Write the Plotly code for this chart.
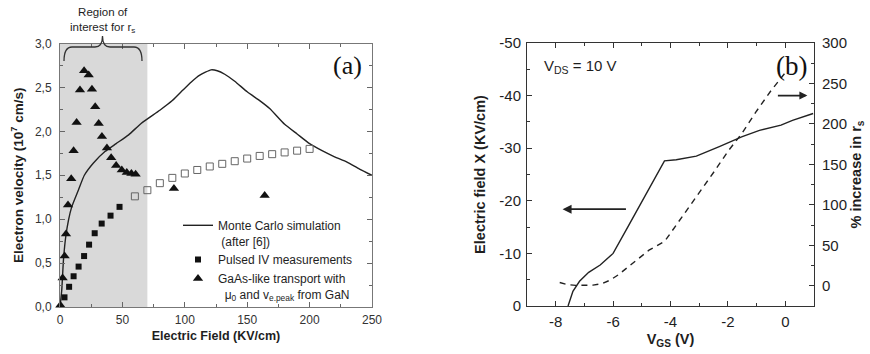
import plotly.graph_objects as go

# ---------------- panel (a) data ----------------
mc_x = [0, 1.4, 2.8, 4.6, 6.8, 9.4, 14.7, 19.5, 26.8, 36, 45, 55, 65, 80, 90, 98.5, 105, 112, 121,
        126, 132, 140, 150, 160, 168, 180, 190, 200, 210, 220, 230, 240, 250]
mc_y = [0, 0.19, 0.54, 0.80, 0.99, 1.14, 1.33, 1.50, 1.64, 1.77, 1.86, 1.96, 2.09, 2.24, 2.35, 2.47,
        2.56, 2.64, 2.70, 2.69, 2.65, 2.57, 2.45, 2.35, 2.26, 2.08, 1.97, 1.86, 1.78, 1.71, 1.65, 1.57, 1.50]

pulsed_x = [3.6, 7.3, 10.9, 14.9, 19.3, 23.3, 27.8, 33.4, 40.5, 47.7]
pulsed_y = [0.11, 0.23, 0.35, 0.46, 0.58, 0.71, 0.84, 0.95, 1.04, 1.14]

open_x = [60, 70, 80, 90, 100, 110, 120, 130, 140, 150, 160, 170, 180, 190, 200]
open_y = [1.26, 1.33, 1.41, 1.47, 1.52, 1.56, 1.60, 1.63, 1.66, 1.69, 1.72, 1.74, 1.76, 1.78, 1.80]

gaas_x = [0.3, 2.1, 3.7, 4.8, 6.4, 9.0, 10.9, 13.3, 16.0, 19.3, 23.0, 25.6, 28.2, 31.0, 33.6,
          37.6, 41.0, 45.0, 49.5, 53.5, 57.2, 60.6, 91.3, 164]
gaas_y = [0.02, 0.33, 0.58, 0.83, 1.16, 1.46, 1.78, 2.10, 2.47, 2.69, 2.64, 2.48, 2.28, 2.09, 1.94,
          1.81, 1.70, 1.61, 1.56, 1.53, 1.52, 1.51, 1.35, 1.27]

a_xticks = [0, 50, 100, 150, 200, 250]
a_yticks = [0, 0.5, 1.0, 1.5, 2.0, 2.5, 3.0]
a_yticktext = ["0,0", "0,5", "1,0", "1,5", "2,0", "2,5", "3,0"]
region_x = [0, 70]

# ---------------- panel (b) data ----------------
field_x = [-7.57, -7.4, -7.17, -6.85, -6.45, -6.0, -5.48, -4.73, -4.21, -3.8, -3.1, -2.3, -1.5,
           -0.9, -0.15, 0.25, 0.97]
field_y = [0, -2.8, -4.7, -6.4, -7.8, -10.0, -15.1, -22.6, -27.6, -27.8, -28.5, -30.3, -32.2,
           -33.4, -34.4, -35.3, -36.6]

rs_x = [-7.86, -7.6, -7.3, -7.0, -6.7, -6.4, -6.1, -5.8, -5.3, -4.75, -4.2, -3.5, -3.0, -2.5,
        -2.0, -1.5, -1.0, -0.5, -0.03]
rs_y = [4, 1.5, 0.5, 0.3, 0.8, 2.5, 7, 14, 28, 44, 55, 90, 114, 140, 166, 189, 216, 241, 262]

b_xticks = [-8, -6, -4, -2, 0]
b_xticktext = ["-8", "-6", "-4", "-2", "0"]
b_yticks = [-50, -40, -30, -20, -10, 0]
b_yticktext = ["-50", "-40", "-30", "-20", "-10", "0"]
b_y2ticks = [0, 50, 100, 150, 200, 250, 300]

W, H = 870, 354


def fx(p):
    return p / W


def fy(p):
    return 1 - p / H


SANS = "Liberation Sans"
SERIF = "Liberation Serif"
TXT = "#1e1e1e"

fig = go.Figure()

fig.add_trace(go.Scatter(x=mc_x, y=mc_y, mode="lines", line=dict(color="#222", width=1.4, shape="spline", smoothing=0.5),
                         name="Monte Carlo simulation<br>\u00a0(after [6])", xaxis="x", yaxis="y"))
fig.add_trace(go.Scatter(x=pulsed_x, y=pulsed_y, mode="markers", cliponaxis=False,
                         marker=dict(symbol="square", size=6, color="#111"),
                         name="Pulsed IV measurements", xaxis="x", yaxis="y"))
fig.add_trace(go.Scatter(x=gaas_x, y=gaas_y, mode="markers", cliponaxis=False,
                         marker=dict(symbol="triangle-up", size=9, color="#111"),
                         name="GaAs-like transport with<br>\u00a0\u00a0μ<sub>0</sub> and v<sub>e.peak</sub> from GaN",
                         xaxis="x", yaxis="y"))
fig.add_trace(go.Scatter(x=open_x, y=open_y, mode="markers", showlegend=False,
                         marker=dict(symbol="square-open", size=7, color="#666", line=dict(width=1)),
                         xaxis="x", yaxis="y"))

fig.add_trace(go.Scatter(x=field_x, y=field_y, mode="lines", line=dict(color="#222", width=1.4),
                         showlegend=False, xaxis="x2", yaxis="y2"))
fig.add_trace(go.Scatter(x=rs_x, y=rs_y, mode="lines",
                         line=dict(color="#222", width=1.4, dash="6px,5px"),
                         showlegend=False, xaxis="x2", yaxis="y3"))

common = dict(showgrid=False, zeroline=False, showline=True, automargin=False, ticks="inside")

fig.update_layout(
    width=W, height=H, template="none",
    margin=dict(l=0, r=0, t=0, b=0),
    paper_bgcolor="white", plot_bgcolor="rgba(0,0,0,0)",
    font=dict(family=SANS, color=TXT),
    xaxis=dict(**common, domain=[fx(60), fx(372)], anchor="y", range=[0, 250],
               tickmode="array", tickvals=a_xticks, ticklen=5, tickcolor="#666",
               linecolor="#777", linewidth=1, mirror="ticks",
               minor=dict(ticks="inside", tick0=0, dtick=25, ticklen=3, tickcolor="#666", showgrid=False),
               tickfont=dict(family=SANS, size=12, color="#333"), ticklabelstandoff=2,
               title=dict(text="Electric Field (KV/cm)", standoff=4,
                          font=dict(family=SANS, size=12.5, weight="bold", color=TXT))),
    yaxis=dict(**common, domain=[fy(307), fy(43.5)], anchor="x", range=[0, 3],
               tickmode="array", tickvals=a_yticks, ticktext=a_yticktext, ticklen=5, tickcolor="#666",
               linecolor="#777", linewidth=1, mirror="ticks",
               minor=dict(ticks="inside", tick0=0, dtick=0.25, ticklen=3, tickcolor="#666", showgrid=False),
               tickfont=dict(family=SANS, size=12, color="#333"), ticklabelstandoff=5,
               title=dict(text="Electron velocity (10<sup>7</sup> cm/s)", standoff=8,
                          font=dict(family=SANS, size=13.5, weight="bold", color=TXT))),
    xaxis2=dict(**common, domain=[fx(527), fx(814)], anchor="y2", range=[-9, 1],
                tickmode="array", tickvals=b_xticks, ticktext=b_xticktext, ticklen=5, tickcolor="#333",
                linecolor="#333", linewidth=1, mirror="ticks",
                minor=dict(ticks="inside", tick0=-9, dtick=1, ticklen=3, tickcolor="#333", showgrid=False),
                tickfont=dict(family=SANS, size=15, color=TXT), ticklabelstandoff=2,
                title=dict(text="V<sub>GS</sub> (V)", standoff=4,
                           font=dict(family=SANS, size=14.5, weight="bold", color=TXT))),
    yaxis2=dict(**common, domain=[fy(306), fy(43)], anchor="x2", range=[0, -50],
                tickmode="array", tickvals=b_yticks, ticktext=b_yticktext, ticklen=5, tickcolor="#333",
                linecolor="#333", linewidth=1, mirror=False,
                minor=dict(ticks="inside", tick0=-45, dtick=10, ticklen=3, tickcolor="#333", showgrid=False),
                tickfont=dict(family=SANS, size=15, color=TXT), ticklabelstandoff=2,
                title=dict(text="Electric field X (KV/cm)", standoff=10,
                           font=dict(family=SANS, size=14.5, weight="bold", color=TXT))),
    yaxis3=dict(**common, overlaying="y2", side="right", anchor="x2", range=[-25, 300],
                tickmode="array", tickvals=b_y2ticks, ticklen=5, tickcolor="#333",
                linecolor="#333", linewidth=1,
                minor=dict(ticks="inside", tick0=25, dtick=50, ticklen=3, tickcolor="#333", showgrid=False),
                tickfont=dict(family=SANS, size=15, color=TXT), ticklabelstandoff=4,
                title=dict(text="% increase in r<sub>s</sub>", standoff=4,
                           font=dict(family=SANS, size=14.5, weight="bold", color=TXT))),
    legend=dict(x=fx(178), y=fy(211), xanchor="left", yanchor="top", bgcolor="rgba(0,0,0,0)",
                font=dict(family=SANS, size=12, color=TXT), valign="top", tracegroupgap=0,
                itemwidth=30),
)

# shaded region of interest
fig.add_shape(type="rect", xref="x", yref="y", x0=region_x[0], x1=region_x[1], y0=0, y1=3,
              fillcolor="#d9d9d9", line=dict(width=0), layer="below")

# curly brace above shaded region (pixel-based path)
pts = [("M", 64, 61), ("Q", 64, 47, 72, 47), ("L", 95, 47), ("Q", 102.5, 47, 102.5, 36),
       ("Q", 102.5, 47, 110, 47), ("L", 134, 47), ("Q", 142, 47, 142, 61)]
path = ""
for seg in pts:
    cmd, vals = seg[0], seg[1:]
    coords = []
    for i in range(0, len(vals), 2):
        coords.append(f"{fx(vals[i]):.5f},{fy(vals[i + 1]):.5f}")
    path += cmd + " " + " ".join(coords) + " "
fig.add_shape(type="path", xref="paper", yref="paper", path=path.strip(),
              line=dict(color="#333", width=1.3))


def label(x, y, text, font, xanchor="center"):
    fig.add_annotation(x=fx(x), y=fy(y), xref="paper", yref="paper", showarrow=False,
                       xanchor=xanchor, yanchor="middle", text=text, font=font)


label(102, 20, "Region of<br>interest for r<sub>s</sub>", dict(family=SANS, size=11.5, color=TXT))
label(347, 66, "(a)", dict(family=SERIF, size=26, color="#111"))
label(791, 66, "(b)", dict(family=SERIF, size=27, color="#111"))
label(542, 67, "V<sub>DS</sub> = 10 V", dict(family=SANS, size=15, color=TXT), xanchor="left")

# arrows indicating which axis each curve belongs to
fig.add_annotation(x=-7.76, y=-18.4, ax=-5.5, ay=-18.4, xref="x2", yref="y2", axref="x2", ayref="y2",
                   text="", showarrow=True, arrowhead=2, arrowsize=1, arrowwidth=1.8, arrowcolor="#222")
fig.add_annotation(x=0.77, y=235, ax=-0.31, ay=235, xref="x2", yref="y3", axref="x2", ayref="y3",
                   text="", showarrow=True, arrowhead=2, arrowsize=1, arrowwidth=1.6, arrowcolor="#222")

fig.write_html("out.html")
